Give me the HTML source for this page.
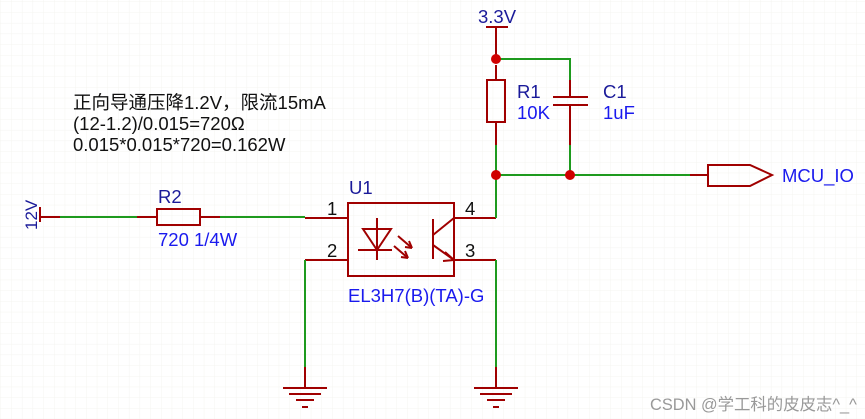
<!DOCTYPE html>
<html><head><meta charset="utf-8"><style>
html,body{margin:0;padding:0;background:#fff;}
svg{display:block;}
text{font-family:"Liberation Sans","Noto Sans CJK SC",sans-serif;}
</style></head><body>
<svg width="865" height="419" viewBox="0 0 865 419" xmlns="http://www.w3.org/2000/svg">
<defs>
<pattern id="g" width="10.7" height="10.7" patternUnits="userSpaceOnUse" x="1" y="2">
<path d="M10.7 0V10.7M0 10.7H10.7" stroke="#f4f4f0" stroke-width="1" fill="none"/>
</pattern>
</defs>
<rect width="865" height="419" fill="url(#g)"/>
<g stroke="#a00000" stroke-width="2" fill="none">
<path d="M40 207V222M40 217H60M137 217H157M200 217H220M305 218H348M305 260H348M454 218H496M454 260H496"/>
<rect x="157" y="209" width="43" height="16"/>
<rect x="348" y="203" width="106" height="73"/>
<path d="M377 218V260M363 229H391L377 250Z M358 250H392"/>
<path d="M398 236L412 248M394 246L408 258"/>
<path d="M412 248L405 247M412 248L409 241M408 258L401 257M408 258L405 251"/>
<path d="M433 219V259M433 235L454 218M433 245L454 260"/>
<path d="M454 260L445 252M454 260L443 261"/>
<path d="M305 367V388M283 388H327M289 394H321M296 400H314M302 407H308"/>
<path d="M496 367V388M474 388H518M480 394H512M487 400H505M493 407H499"/>
<path d="M486 27H508M496 27V59M496 65V80M496 122V145"/>
<rect x="487" y="80" width="18" height="42"/>
<path d="M570 80V97M553 97H588M553 105H588M570 105V145"/>
<path d="M690 175H708M708 165H750L772 175L750 186H708Z"/>
</g>
<g stroke="#1e9a1e" stroke-width="2" fill="none">
<path d="M60 217H137M220 217H305"/>
<path d="M305 260V367M496 260V367M496 218V145M496 59H570V80M570 145V175M496 175H690"/>
</g>
<g fill="#d00000">
<circle cx="496" cy="59" r="5"/><circle cx="496" cy="175" r="5"/><circle cx="570" cy="175" r="5"/>
</g>
<g font-size="18.5" fill="#1a1a99">
<text x="37" y="230" transform="rotate(-90 37 230)" font-size="17">12V</text>
<text x="158" y="203">R2</text>
<text x="349" y="194">U1</text>
<text x="478" y="23">3.3V</text>
<text x="517" y="98">R1</text>
<text x="603" y="98">C1</text>
</g>
<g font-size="18.5" fill="#1a1aee">
<text x="158" y="246">720 1/4W</text>
<text x="348" y="302">EL3H7(B)(TA)-G</text>
<text x="517" y="119">10K</text>
<text x="603" y="119">1uF</text>
<text x="782" y="182">MCU_IO</text>
</g>
<g font-size="18.5" fill="#111">
<text x="327" y="215">1</text><text x="327" y="257">2</text>
<text x="465" y="215">4</text><text x="465" y="257">3</text>
<text x="73" y="109">正向导通压降1.2V，限流15mA</text>
<text x="73" y="130">(12-1.2)/0.015=720Ω</text>
<text x="73" y="151">0.015*0.015*720=0.162W</text>
</g>
<text x="650" y="410" font-size="16.4" fill="#999">CSDN @学工科的皮皮志^_^</text>
</svg>
</body></html>
